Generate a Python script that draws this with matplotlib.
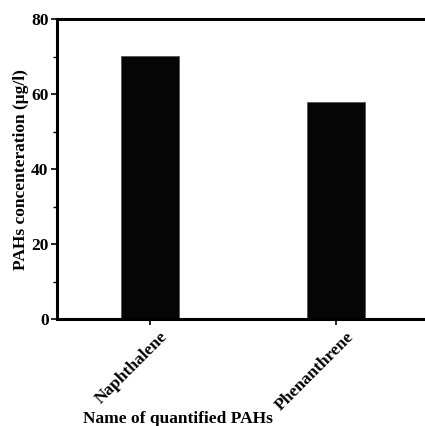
import matplotlib
matplotlib.use("Agg")
import matplotlib.pyplot as plt
import matplotlib.transforms as mtransforms
from matplotlib.ticker import MultipleLocator

# PAH concentrations in the sample (µg/l)
compounds = ["Naphthalene", "Phenanthrene"]
concentration = [70.3, 57.9]

plt.rcParams["font.family"] = ["Liberation Serif", "DejaVu Serif"]
plt.rcParams["font.weight"] = "bold"

fig = plt.figure(figsize=(4.25, 4.26), dpi=100)
ax = fig.add_axes([0.134, 0.251, 0.875, 0.704])

x = list(range(len(compounds)))
ax.bar(x, concentration, width=0.31, color="#050505", edgecolor="#555555", linewidth=0.6)

ax.set_xlim(-0.5, 1.5)
ax.set_ylim(0, 80)
ax.yaxis.set_major_locator(MultipleLocator(20))
ax.yaxis.set_minor_locator(MultipleLocator(10))
ax.set_xticks(x)
ax.set_xticklabels([])

# slanted compound names, sitting a bit right of their ticks
base = ax.get_xaxis_transform()
name_tr = mtransforms.offset_copy(base, fig=fig, x=14, y=-14, units="dots")
for xi, name in zip(x, compounds):
    ax.text(xi, 0, name, transform=name_tr, rotation=45, ha="right",
            va="center_baseline", rotation_mode="anchor",
            fontsize=12.5, fontweight="bold")

for lab in ax.get_yticklabels():
    lab.set_fontsize(12.5)
    lab.set_fontweight("bold")

for side in ["left", "bottom", "top", "right"]:
    ax.spines[side].set_linewidth(2.2)

ax.tick_params(axis="both", which="major", direction="out", length=4, width=1.2, pad=2)
ax.tick_params(axis="y", which="minor", direction="out", length=3, width=1.0)

ax.set_ylabel("PAHs concenteration (\u03bcg/l)", fontsize=12.5, fontweight="bold")
ax.yaxis.set_label_coords(-0.076, 0.5)
ax.set_xlabel("Name of quantified PAHs", fontsize=12.5, fontweight="bold")
ax.xaxis.set_label_coords(0.325, -0.305)

fig.savefig("out.png", dpi=100)
